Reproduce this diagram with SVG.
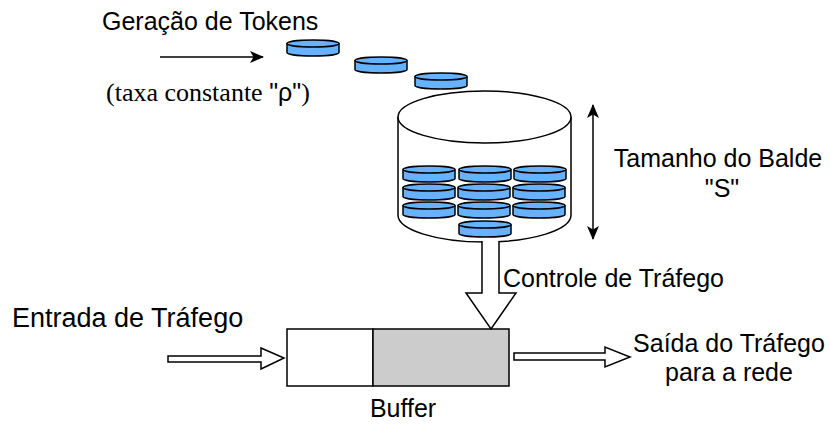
<svg xmlns="http://www.w3.org/2000/svg" width="831" height="425" viewBox="0 0 831 425">
  <style>
    .txt { font-family: "Liberation Sans", Arial, Helvetica, sans-serif; font-size: 25px; fill: #000; }
    .serif { font-family: "Liberation Serif", "Times New Roman", serif; font-size: 26px; fill: #000; }
    .line { fill: none; stroke: #000; stroke-width: 1.5; }
    .hollow { fill: #fff; stroke: #000; stroke-width: 1.5; stroke-linejoin: miter; }
    .token { fill: #66b2ff; stroke: #000; stroke-width: 1.5; }
    .tokenrim { fill: none; stroke: #000; stroke-width: 1.5; }
  </style>
  <defs>
    <!-- one token: small cylinder 52 x 16 -->
    <g id="tok">
      <path class="token" d="M0,3.5 A26,3.5 0 0 1 52,3.5 L52,12.5 A26,3.5 0 0 1 0,12.5 Z"/>
      <path class="tokenrim" d="M0,3.5 A26,3.5 0 0 0 52,3.5"/>
    </g>
    <marker id="solidHead" viewBox="0 0 14 12" refX="13" refY="6" markerWidth="14" markerHeight="12" markerUnits="userSpaceOnUse" orient="auto-start-reverse">
      <path d="M0,0 L14,6 L0,12 L3.5,6 Z" fill="#000"/>
    </marker>
  </defs>

  <!-- token generation -->
  <g id="token-generation">
    <text class="txt" x="102" y="30">Geração de Tokens</text>
    <text class="serif" x="106" y="101">(taxa constante <tspan font-family="Liberation Sans, Arial, sans-serif" font-size="25">"ρ"</tspan>)</text>
  </g>

  <!-- tokens dropping into the bucket -->
  <g id="falling-tokens">
    <use href="#tok" x="287" y="40"/>
    <use href="#tok" x="355" y="57"/>
    <use href="#tok" x="415" y="73"/>
  </g>

  <!-- bucket -->
  <g id="bucket">
    <path class="line" d="M398,117 L398,215 A86.5,27 0 0 0 571,215 L571,117" fill="#fff"/>
    <ellipse cx="484.5" cy="117" rx="86.5" ry="26" fill="#fff" stroke="#000" stroke-width="1.5"/>
    <use href="#tok" x="403" y="166"/>
    <use href="#tok" x="459" y="166"/>
    <use href="#tok" x="514" y="166"/>
    <use href="#tok" x="403" y="184"/>
    <use href="#tok" x="458" y="184"/>
    <use href="#tok" x="513" y="184"/>
    <use href="#tok" x="403" y="202"/>
    <use href="#tok" x="458" y="202"/>
    <use href="#tok" x="513" y="202"/>
    <use href="#tok" x="459" y="221"/>
  </g>

  <!-- bucket size label -->
  <g id="bucket-size">
    <text class="txt" x="718" y="167" text-anchor="middle">Tamanho do Balde</text>
    <text class="txt" x="722" y="197" text-anchor="middle">"S"</text>
  </g>

  <!-- buffer -->
  <g id="buffer">
    <rect x="287" y="329" width="86" height="57" fill="#fff" stroke="#000" stroke-width="1.5"/>
    <rect x="373" y="329" width="136" height="57" fill="#cccccc" stroke="#000" stroke-width="1.5"/>
    <text class="txt" x="403" y="417" text-anchor="middle">Buffer</text>
  </g>

  <!-- traffic labels -->
  <g id="traffic-in">
    <text class="txt" x="12" y="327" font-size="27" style="font-size:27px">Entrada de Tráfego</text>
  </g>
  <g id="traffic-out">
    <text class="txt" x="729" y="352" text-anchor="middle">Saída do Tráfego</text>
    <text class="txt" x="729" y="381" text-anchor="middle">para a rede</text>
  </g>
  <g id="traffic-control">
    <text class="txt" x="503" y="287">Controle de Tráfego</text>
  </g>

  <!-- connectors -->
  <g id="connectors">
    <line class="line" x1="160" y1="57" x2="263" y2="57" marker-end="url(#solidHead)"/>
    <line class="line" x1="593" y1="105" x2="593" y2="239" marker-start="url(#solidHead)" marker-end="url(#solidHead)"/>
    <path class="hollow" d="M482,241 L482,293 L466,293 L491,329 L516,293 L499,293 L499,241"/>
    <path class="hollow" d="M168,356 L261,356 L261,348 L284,358 L261,369 L261,362 L168,362 Z"/>
    <path class="hollow" d="M514,353 L605,353 L605,347 L630,357 L605,367 L605,360 L514,360 Z"/>
  </g>
</svg>
